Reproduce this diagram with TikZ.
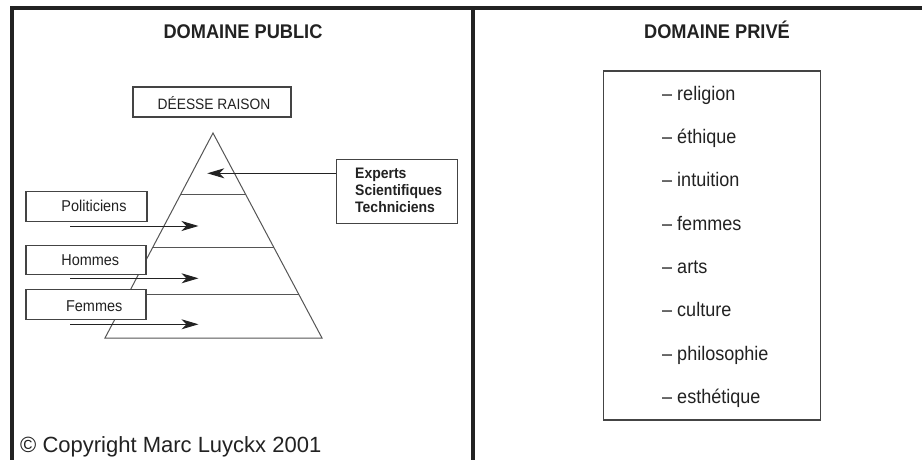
\documentclass[tikz,border=0pt]{standalone}
\usepackage{fontspec}
\setmainfont{Liberation Sans}
\newfontfamily\narrowfont[FakeStretch=0.92]{Liberation Sans}
\usetikzlibrary{arrows.meta,calc}
\definecolor{ink}{HTML}{222222}
\definecolor{edgec}{HTML}{444444}
\definecolor{trig}{HTML}{555555}
\begin{document}
\begin{tikzpicture}[x=1pt,y=-1pt,
  frame/.style={line width=3.2pt,draw=ink},
  box/.style={draw=edgec,line width=1.1pt,fill=white,inner sep=0pt},
  txt/.style={inner sep=0pt,text=ink,anchor=base},
  title/.style={txt,font=\narrowfont\bfseries\fontsize{19.8}{24}\selectfont},
  lab/.style={txt,font=\narrowfont\fontsize{15.7}{19}\selectfont},
  item/.style={txt,anchor=base west,font=\narrowfont\fontsize{19.6}{24}\selectfont},
  tri/.style={draw=trig,line width=1pt},
  arr/.style={draw=ink,line width=1pt,-{Stealth[length=17pt,width=10pt,inset=5pt]}}]
\useasboundingbox (0,0) rectangle (922,460);
\fill[white] (0,0) rectangle (922,460);
% frame
\draw[frame] (12,461) -- (12,8) -- (923,8);
\draw[frame] (473,8) -- (473,461);
% titles
\node[title] (tpub) at (243,39) {DOMAINE PUBLIC};
\node[title] (tpriv) at (717,39) {DOMAINE PRIVÉ};
% goddess
\node[box,minimum width=158pt,minimum height=30pt] (dee) at (212,102) {};
\node[lab,font=\narrowfont\fontsize{15}{18}\selectfont] (deet) at (214,109.3) {DÉESSE RAISON};
% pyramid
\coordinate (apex) at (213,133);
\coordinate (bl) at (105,338);
\coordinate (br) at (322,338);
\draw[tri] (apex) -- (bl) -- (br) -- cycle;
\foreach \t in {0.299,0.5576,0.787}
  \draw[tri] ($(apex)!\t!(bl)$) -- ($(apex)!\t!(br)$);
% left boxes
\node[box,minimum width=121pt,minimum height=29.3pt] (pol) at (86.5,206.4) {};
\node[lab] (polt) at (94,211) {Politiciens};
\node[box,minimum width=120pt,minimum height=29.3pt] (hom) at (86,259.7) {};
\node[lab] (homt) at (90.3,265.7) {Hommes};
\node[box,minimum width=120pt,minimum height=30.3pt] (fem) at (86,304.2) {};
\node[lab] (femt) at (94.2,311.7) {Femmes};
% arrows into pyramid
\coordinate (a1s) at (70,226); \coordinate (a1e) at (198.5,226);
\coordinate (a2s) at (70,278.3); \coordinate (a2e) at (198.5,278.3);
\coordinate (a3s) at (70,324.3); \coordinate (a3e) at (198.5,324.3);
\draw[arr] (a1s) -- (a1e);
\draw[arr] (a2s) -- (a2e);
\draw[arr] (a3s) -- (a3e);
% experts
\node[box,minimum width=121.3pt,minimum height=64pt] (exp) at (396.7,191.3) {};
\node[txt,anchor=base west,align=left,font=\narrowfont\bfseries\fontsize{15.2}{17}\selectfont] (expt) at (355,212.3)
  {Experts\\Scientifiques\\Techniciens};
\coordinate (expe) at (207.3,173.3);
\draw[arr] ([yshift=18pt]exp.west) -- (expe);
% private domain
\node[box,minimum width=217.4pt,minimum height=349pt] (priv) at (712,245.5) {};
\node[item] (i1) at (662,100) {– religion};
\node[item] (i2) at (662,143.3) {– éthique};
\node[item] (i3) at (662,186.6) {– intuition};
\node[item] (i4) at (662,230) {– femmes};
\node[item] (i5) at (662,273.3) {– arts};
\node[item] (i6) at (662,316.6) {– culture};
\node[item] (i7) at (662,360) {– philosophie};
\node[item] (i8) at (662,403.3) {– esthétique};
% copyright
\node[txt,anchor=base west,font=\fontsize{22}{26}\selectfont] (copy) at (20,452.7) {© Copyright Marc Luyckx 2001};
\end{tikzpicture}
\end{document}
